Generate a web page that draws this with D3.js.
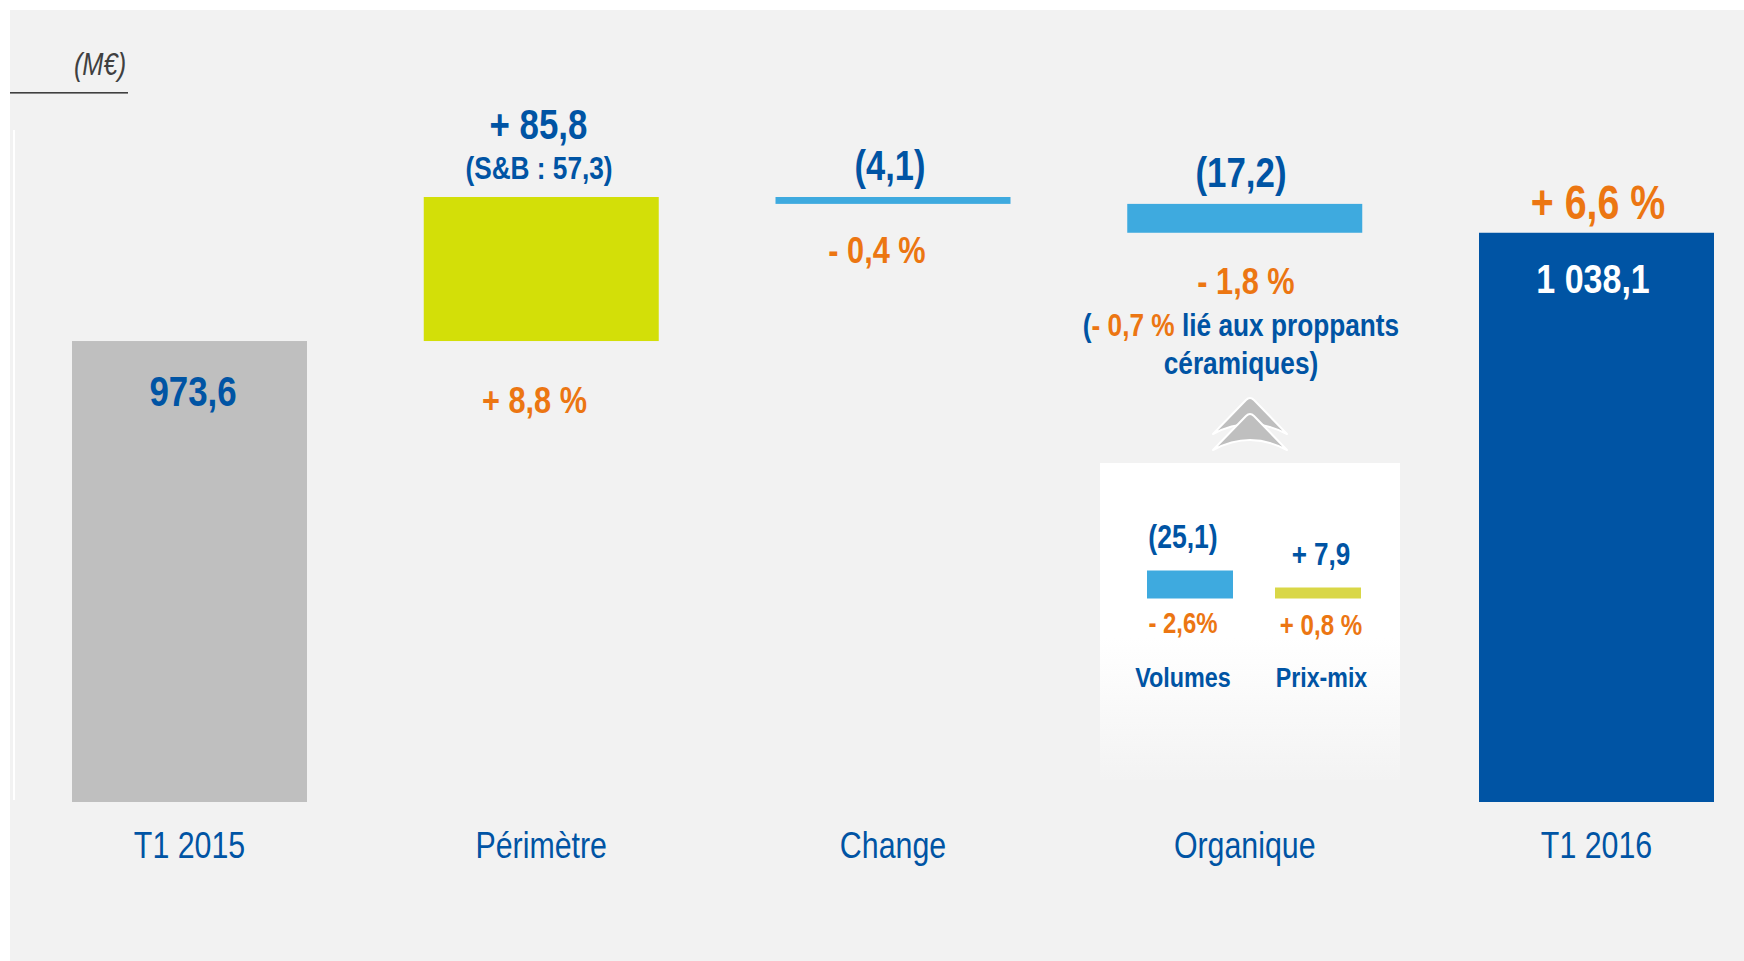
<!DOCTYPE html>
<html><head><meta charset="utf-8">
<script src="https://cdn.jsdelivr.net/npm/d3@7"></script>
<style>
html,body{margin:0;padding:0;background:#fff}
svg{display:block}
text{font-family:"Liberation Sans","Arial",sans-serif}
</style></head><body>
<script>
// ---- data ----
const categories=["T1 2015","Périmètre","Change","Organique","T1 2016"];
const starts=[699,973.6,1059.4,1055.3,699];
const ends=[973.6,1059.4,1055.3,1038.1,1038.1];
const innerCategories=["Volumes","Prix-mix"];
const innerValues=[25.1,7.9];
const labelTexts=["973,6","+ 85,8","(S&B : 57,3)","+ 8,8 %","(4,1)","- 0,4 %","(17,2)","- 1,8 %","céramiques)","+ 6,6 %","1 038,1","(25,1)","+ 7,9","- 2,6%","+ 0,8 %","Volumes","Prix-mix"];

// ---- styles and layout ----
const barColors=["#bfbfbf","#d3df08","#3eaadf","#3eaadf","#0054a4"];
const innerColors=["#3eaadf","#d9d747"];
const BLUE="#0054a4",ORANGE="#ec7612";
const NARROW=0.82;
const labelLayout=[
 [193,406,42.5,BLUE],[538.5,139,42.5,BLUE],[539,179,32,BLUE],[534.5,413,37.5,ORANGE],
 [890,180,42,BLUE],[877,263,37.5,ORANGE],[1241,187,42.5,BLUE],[1246,294,37.5,ORANGE],
 [1241,374,32,BLUE],[1598,219,48,ORANGE],[1593,293,41.5,"#fff"],
 [1183,548,32.4,BLUE],[1321,565,31.8,BLUE],[1183,633,29.2,ORANGE],[1321,635,29.4,ORANGE],
 [1183,687,28.5,BLUE],[1321.5,687,28.3,BLUE]
];

const svg=d3.select("body").append("svg").attr("width",1744).attr("height",961);
svg.append("rect").attr("x",10).attr("y",10).attr("width",1734).attr("height",951).attr("fill","#f2f2f2");
svg.append("rect").attr("x",13).attr("y",130).attr("width",2).attr("height",670).attr("fill","#fff");

const x=d3.scalePoint().domain(categories).range([189.5,1596.5]);
const y=d3.scaleLinear().domain([699,1059.4]).range([802,197]);
const barW=235;

const defs=svg.append("defs");
const g=defs.append("linearGradient").attr("id","fade").attr("x1",0).attr("x2",0).attr("y1",0).attr("y2",1);
g.append("stop").attr("offset","0.55").attr("stop-color","#fff");
g.append("stop").attr("offset","1").attr("stop-color","#f3f3f3");
svg.append("rect").attr("x",1100).attr("y",463).attr("width",300).attr("height",317).attr("fill","url(#fade)");

svg.selectAll("rect.bar").data(categories).join("rect").attr("class","bar")
 .attr("x",d=>x(d)-barW/2).attr("width",barW)
 .attr("y",(d,i)=>y(Math.max(starts[i],ends[i])))
 .attr("height",(d,i)=>Math.abs(y(starts[i])-y(ends[i])))
 .attr("fill",(d,i)=>barColors[i]);

const axis=d3.axisBottom(x).tickSize(0).tickPadding(0);
const ax=svg.append("g").attr("transform","translate(-0.5,832)").call(axis);
ax.select(".domain").remove();
ax.selectAll("text").attr("fill",BLUE).attr("font-size",37)
  .attr("font-family",'"Liberation Sans",Arial,sans-serif').attr("dy","0.71em")
  .attr("transform",`scale(${NARROW},1)`);

// inner panel bars
const ix=d3.scalePoint().domain(innerCategories).range([1190,1318]);
const ih=d3.scaleLinear().domain([7.9,25.1]).range([11,28]);
svg.selectAll("rect.inner").data(innerCategories).join("rect").attr("class","inner")
 .attr("x",d=>ix(d)-43).attr("width",86)
 .attr("y",(d,i)=>598.5-ih(innerValues[i])).attr("height",(d,i)=>ih(innerValues[i]))
 .attr("fill",(d,i)=>innerColors[i]);

// chevrons
const chev=dy=>`M1213,${434+dy} L1246,${400+dy} Q1250,${396+dy} 1254,${400+dy} L1287,${434+dy} Q1250,${414+dy} 1213,${434+dy} Z`;
[0,16].forEach(dy=>svg.append("path").attr("d",chev(dy)).attr("fill","#bfbfbf").attr("stroke","#fff").attr("stroke-width",2).attr("stroke-linejoin","round"));

svg.selectAll("text.lab").data(labelTexts).join("text").attr("class","lab")
 .attr("transform",(d,i)=>`translate(${labelLayout[i][0]},${labelLayout[i][1]}) scale(${NARROW},1)`)
 .attr("text-anchor","middle")
 .attr("font-size",(d,i)=>labelLayout[i][2]).attr("font-weight","bold")
 .attr("fill",(d,i)=>labelLayout[i][3]).text(d=>d);

const multi=svg.append("text").attr("transform",`translate(1241,336) scale(${NARROW},1)`).attr("text-anchor","middle").attr("font-size",32).attr("font-weight","bold").attr("fill",BLUE);
multi.append("tspan").text("(");
multi.append("tspan").attr("fill",ORANGE).text("- 0,7 %");
multi.append("tspan").text(" lié aux proppants");

svg.append("text").attr("transform",`translate(100,75) scale(${NARROW},1)`).attr("text-anchor","middle").attr("font-size",31).attr("font-style","italic").attr("fill","#404040").text("(M€)");
svg.append("rect").attr("x",10).attr("y",92).attr("width",118).attr("height",1.6).attr("fill","#404040");
</script>
</body></html>
